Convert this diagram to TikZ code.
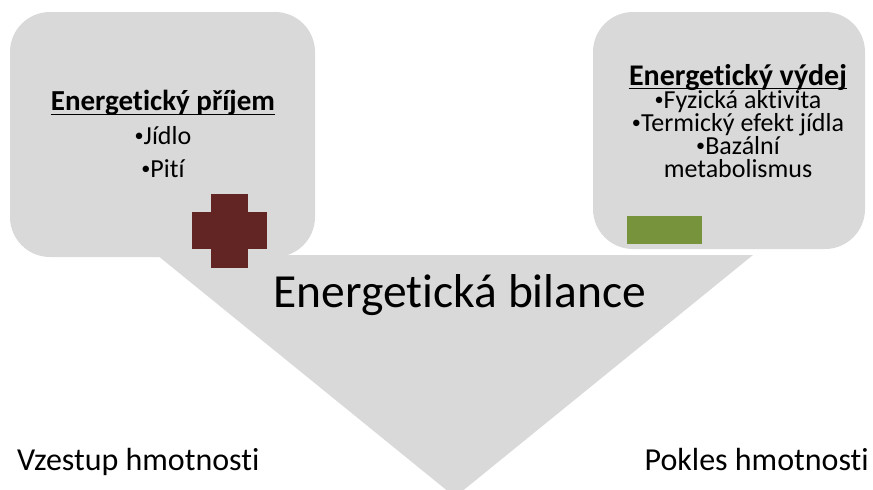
\documentclass[tikz,border=0pt]{standalone}
\usepackage{fontspec}
\setmainfont{Carlito}[Ligatures=NoCommon]
\definecolor{boxgray}{HTML}{D9D9D9}
\definecolor{plusred}{HTML}{632523}
\definecolor{minusgreen}{HTML}{77933C}
\newcommand\mybul{\raisebox{0.1em}{\scalebox{0.7}{•}}}
\begin{document}
\begin{tikzpicture}[x=1pt,y=-1pt,
  panel/.style={fill=boxgray,draw=none,rounded corners=40pt},
  boxtxt/.style={anchor=base,inner sep=0pt,text height=16pt,text depth=5pt,font=\fontsize{26}{26}\selectfont},
  boxhead/.style={boxtxt,font=\fontsize{29}{29}\selectfont\bfseries},
  uline/.style={line width=1.6pt},
  sidetxt/.style={anchor=base,inner sep=0pt,font=\fontsize{32}{32}\selectfont}]
\useasboundingbox (0,0) rectangle (873,490);
% central triangle
\fill[boxgray] (157,255) -- (753,255) -- (455,497) -- cycle;
% boxes
\fill[panel] (10,12) rectangle (315,257);
\fill[panel] (593,12) rectangle (865,249);
% plus sign
\fill[plusred] (211,194) rectangle (248,268);
\fill[plusred] (192,212) rectangle (267,249);
% minus sign
\fill[minusgreen] (627,216) rectangle (702,244);
% texts left
\node[boxhead] (lh) at (163,110) {Energetický příjem};
\draw[uline] ([yshift=-4.5pt]lh.base west) -- ([yshift=-4.5pt]lh.base east);
\node[boxtxt] (l1) at (163,144) {\mybul Jídlo};
\node[boxtxt] (l2) at (163,177) {\mybul Pití};
% texts right
\node[boxhead,font=\fontsize{30}{30}\selectfont\bfseries] (rh) at (738,85) {Energetický výdej};
\draw[uline] ([yshift=-3.5pt]rh.base west) -- ([yshift=-3.5pt]rh.base east);
\node[boxtxt] (r1) at (738,108) {\mybul Fyzická aktivita};
\node[boxtxt] (r2) at (738,131) {\mybul Termický efekt jídla};
\node[boxtxt] (r3) at (738,154) {\mybul Bazální};
\node[boxtxt] (r4) at (738,177) {metabolismus};
% centre
\node[anchor=base,inner sep=0pt,font=\fontsize{47.5}{47.5}\selectfont] (bil) at (460,307) {Energetická bilance};
% bottom labels
\node[sidetxt,anchor=base west] (vz) at (17,470) {Vzestup hmotnosti};
\node[sidetxt,anchor=base east] (pk) at (869,470) {Pokles hmotnosti};
\end{tikzpicture}
\end{document}
